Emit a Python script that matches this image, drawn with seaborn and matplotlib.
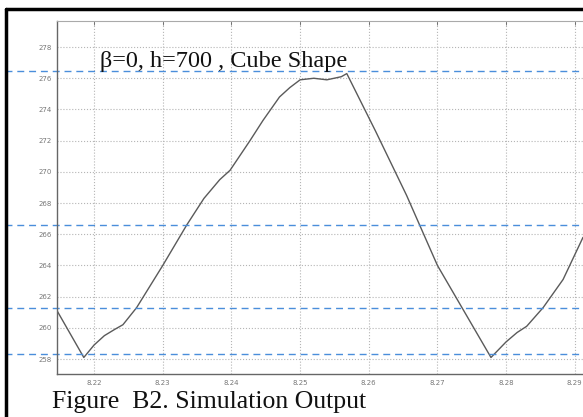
import matplotlib
matplotlib.use("Agg")
import matplotlib.pyplot as plt
import seaborn as sns
import pandas as pd

# curve
time_s = [8.2146, 8.2185, 8.2200, 8.2215, 8.2230, 8.2242, 8.2262, 8.2300, 8.2335,
          8.2360, 8.2383, 8.2398, 8.2427, 8.2446, 8.2470, 8.2485, 8.2500, 8.2520,
          8.2539, 8.2560, 8.2568, 8.2610, 8.2655, 8.2700, 8.2778, 8.2800,
          8.2816, 8.2830, 8.2854, 8.2883, 8.2912]
output = [261.1, 258.1, 258.9, 259.5, 259.9, 260.2, 261.3, 264.0, 266.6,
          268.3, 269.5, 270.1, 272.0, 273.3, 274.8, 275.4, 275.9, 276.0,
          275.9, 276.1, 276.3, 272.6, 268.5, 264.0, 258.1, 259.1,
          259.7, 260.1, 261.3, 263.1, 265.8]

x_ticks = [8.22, 8.23, 8.24, 8.25, 8.26, 8.27, 8.28, 8.29]
y_ticks = [258, 260, 262, 264, 266, 268, 270, 272, 274, 276, 278]

# blue dashed reference levels overlaid on the figure
ref_levels = [276.45, 266.6, 261.3, 258.3]

title_text = "β=0, h=700 , Cube Shape"
caption_text = "Figure  B2. Simulation Output"

df = pd.DataFrame({"t": time_s, "v": output})

sns.set_style("white")
plt.rcParams['font.family'] = ['DejaVu Sans']

fig = plt.figure(figsize=(5.83, 4.17), dpi=100)
ax = fig.add_axes([0.0978, 0.1031, 0.9022, 0.8465])

sns.lineplot(data=df, x="t", y="v", ax=ax, color="#5a5a5a", linewidth=1.0)

ax.set_xlim(8.2146, 8.2912)
ax.set_ylim(257.04, 279.67)
ax.set_xticks(x_ticks)
ax.set_yticks(y_ticks)
ax.set_xticklabels([f"{t:.2f}" for t in x_ticks])
ax.set_xlabel("")
ax.set_ylabel("")
ax.grid(True, color="#b5b5b5", linestyle=":", linewidth=0.8)
ax.tick_params(direction="in", top=True, length=3, width=0.6, color="#666666",
               labelsize=5, labelcolor="#777777", pad=4)

for side in ["left", "bottom"]:
    ax.spines[side].set_color("#666666")
    ax.spines[side].set_linewidth(1.0)
ax.spines["top"].set_color("#aaaaaa")
ax.spines["top"].set_linewidth(0.8)
ax.spines["right"].set_visible(False)

for lvl in ref_levels:
    ax.axhline(lvl, xmin=-0.099, xmax=1.0, clip_on=False, color="#4a8edb",
               linestyle=(0, (5, 3.5)), linewidth=1.0)

ax.text(0.082, 0.87, title_text, transform=ax.transAxes, family="Liberation Serif",
        fontsize=17.5, color="#111111", va="baseline", ha="left")
fig.text(0.089, 0.022, caption_text, family="Liberation Serif", fontsize=18.5,
         color="#111111", va="baseline", ha="left")

# scan frame: left and top black borders
fig.add_artist(plt.Line2D([0.0111, 0.0111], [0.0, 0.979], color="black", linewidth=2.5))
fig.add_artist(plt.Line2D([0.0111, 1.0], [0.979, 0.979], color="black", linewidth=2.5))

fig.savefig("out.png", dpi=100)
plt.close(fig)
